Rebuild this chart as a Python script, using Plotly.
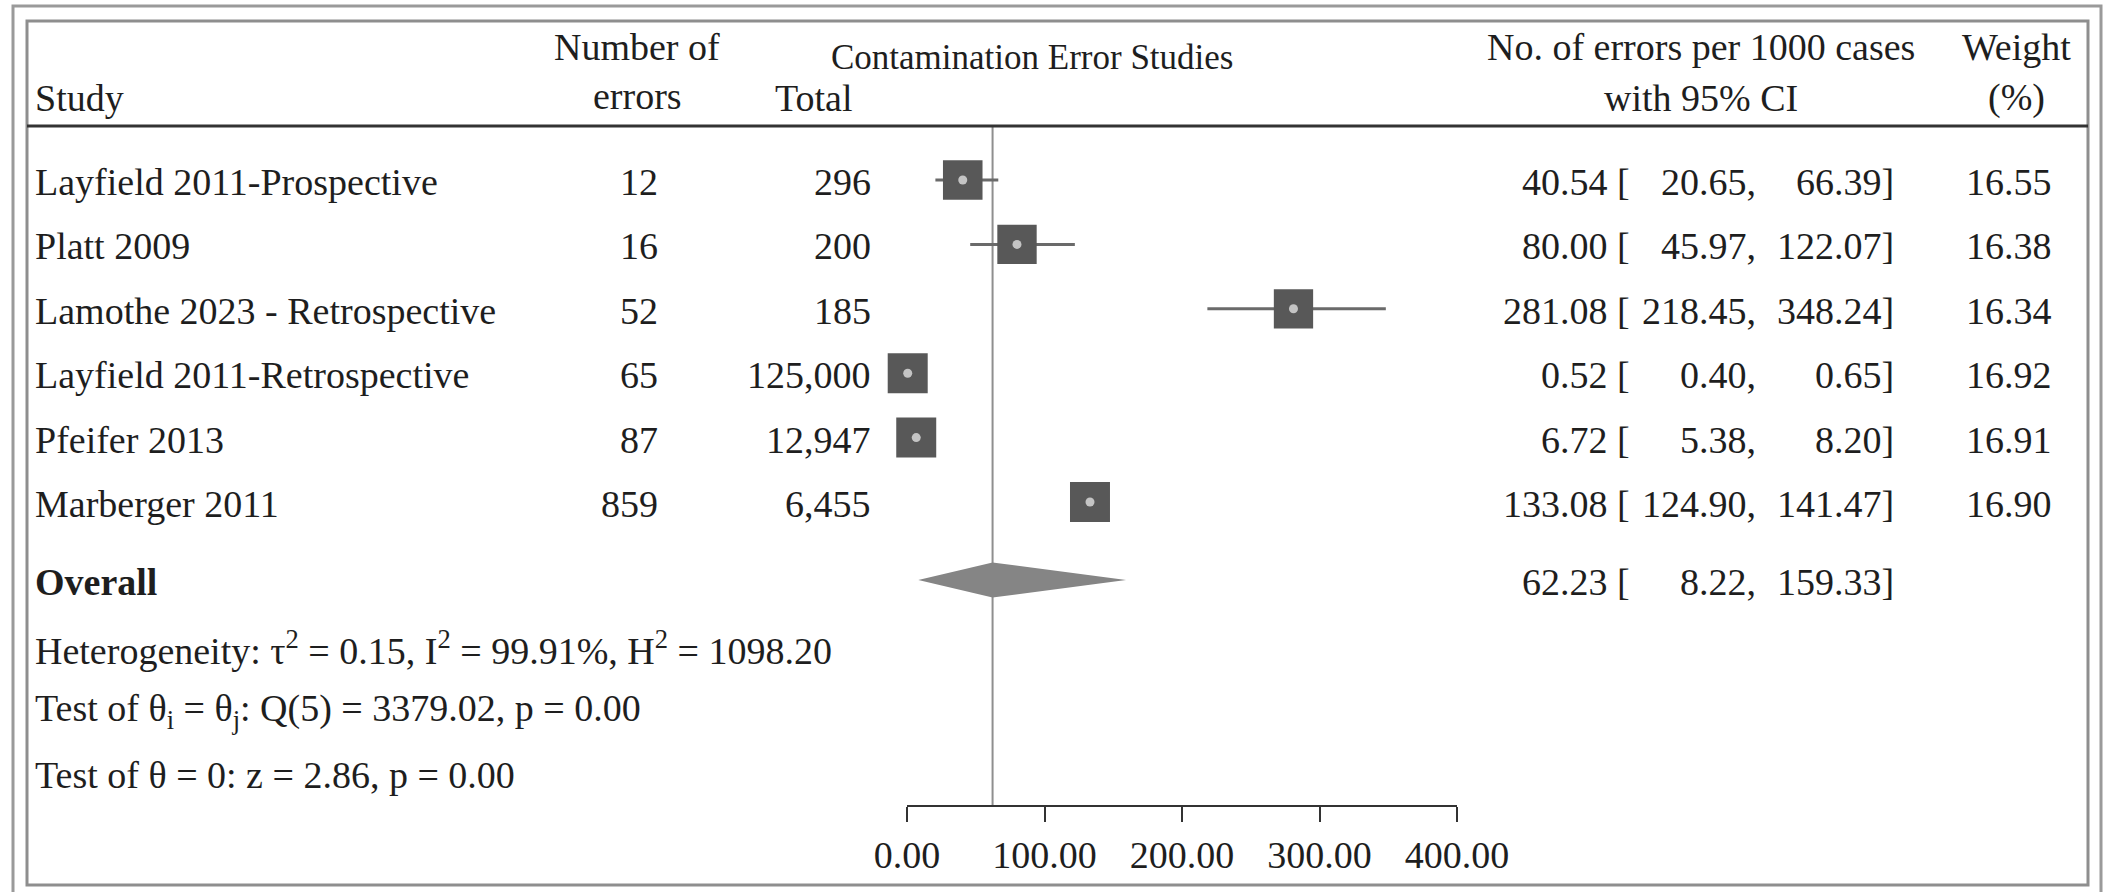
import plotly.graph_objects as go

# ---------------- data ----------------
studies = ["Layfield 2011-Prospective", "Platt 2009", "Lamothe 2023 - Retrospective",
           "Layfield 2011-Retrospective", "Pfeifer 2013", "Marberger 2011"]
n_errors = [12, 16, 52, 65, 87, 859]
totals = [296, 200, 185, 125000, 12947, 6455]
est = [40.54, 80.00, 281.08, 0.52, 6.72, 133.08]
ci_lo = [20.65, 45.97, 218.45, 0.40, 5.38, 124.90]
ci_hi = [66.39, 122.07, 348.24, 0.65, 8.20, 141.47]
weights = [16.55, 16.38, 16.34, 16.92, 16.91, 16.90]
overall_est, overall_lo, overall_hi = 62.23, 8.22, 159.33
stats_lines = [
    "Heterogeneity: τ<sup>2</sup> = 0.15, I<sup>2</sup> = 99.91%, H<sup>2</sup> = 1098.20",
    "Test of θ<sub>i</sub> = θ<sub>j</sub>: Q(5) = 3379.02, p = 0.00",
    "Test of θ = 0: z = 2.86, p = 0.00",
]
tick_vals = [0, 100, 200, 300, 400]
tick_text = ["%.2f" % v for v in tick_vals]

# ---------------- layout helpers ----------------
W, H = 2106, 892
Y0, DY = 180.0, 64.4          # pixel of first row, pixels per row
def px(x):
    return x / W
def py(y):
    return 1 - y / H
def row_of(ypix):
    return (ypix - Y0) / DY

FONT = "Liberation Serif"
TXT = "#1e1e1e"
FS = 38

rows = list(range(len(studies)))
overall_row = row_of(580)
stat_rows = [row_of(646), row_of(709), row_of(773)]

fig = go.Figure()

# CI lines
ci_x, ci_y = [], []
for r, l, h in zip(rows, ci_lo, ci_hi):
    ci_x += [l, h, None]
    ci_y += [r, r, None]
fig.add_trace(go.Scatter(x=ci_x, y=ci_y, mode="lines",
                         line=dict(color="#6a6a6a", width=3),
                         hoverinfo="skip", showlegend=False))
# squares (area proportional to weight)
maxw = max(weights)
fig.add_trace(go.Scatter(
    x=est, y=rows, mode="markers",
    marker=dict(symbol="square", color="#585858", opacity=1,
                size=[40 * (w / maxw) ** 0.5 for w in weights], line=dict(width=0)),
    cliponaxis=False, hoverinfo="skip", showlegend=False))
# centre dots
fig.add_trace(go.Scatter(
    x=est, y=rows, mode="markers",
    marker=dict(symbol="circle", color="#c4c4c4", size=9, opacity=1, line=dict(width=0)),
    cliponaxis=False, hoverinfo="skip", showlegend=False))
# overall diamond
hh = 17.5 / DY
fig.add_trace(go.Scatter(
    x=[overall_lo, overall_est, overall_hi, overall_est, overall_lo],
    y=[overall_row, overall_row - hh, overall_row, overall_row + hh, overall_row],
    mode="lines", fill="toself", fillcolor="#858585", line=dict(width=0, color="#858585"),
    hoverinfo="skip", showlegend=False))

ann = []
def add_text(text, x, y, xanchor, yref="y", size=FS, yshift=-2):
    ann.append(dict(text=text, x=px(x), xref="paper", y=y, yref=yref,
                    xanchor=xanchor, yanchor="middle", showarrow=False, yshift=yshift,
                    font=dict(family=FONT, size=size, color=TXT)))

# headers
add_text("Study", 33, py(98), "left", yref="paper", yshift=0)
add_text("Number of", 637, py(47), "center", yref="paper", yshift=0)
add_text("errors", 637, py(96), "center", yref="paper", yshift=0)
add_text("Total", 855, py(98), "right", yref="paper", yshift=0)
add_text("Contamination Error Studies", 1032, py(57), "center", yref="paper", size=35, yshift=0)
add_text("No. of errors per 1000 cases", 1701, py(47), "center", yref="paper", yshift=0)
add_text("with 95% CI", 1701, py(98), "center", yref="paper", yshift=0)
add_text("Weight", 2016, py(47), "center", yref="paper", yshift=0)
add_text("(%)", 2016, py(98), "center", yref="paper", yshift=0)

# study rows
for r, s, n, t, e, l, h, w in zip(rows, studies, n_errors, totals, est, ci_lo, ci_hi, weights):
    add_text(s, 33, r, "left")
    add_text(str(n), 660, r, "right")
    add_text(f"{t:,}", 873, r, "right")
    add_text(f"{e:.2f} [", 1632, r, "right")
    add_text(f"{l:.2f},", 1758, r, "right")
    add_text(f"{h:.2f}]", 1896, r, "right")
    add_text(f"{w:.2f}", 2054, r, "right")

# overall row
add_text("<b>Overall</b>", 33, overall_row, "left")
add_text(f"{overall_est:.2f} [", 1632, overall_row, "right")
add_text(f"{overall_lo:.2f},", 1758, overall_row, "right")
add_text(f"{overall_hi:.2f}]", 1896, overall_row, "right")

for r, s in zip(stat_rows, stats_lines):
    add_text(s, 33, r, "left")

shapes = [
    # outer and inner frames
    dict(type="rect", xref="paper", yref="paper", x0=px(13), x1=px(2101), y0=py(905), y1=py(6),
         line=dict(color="#9a9a9a", width=3)),
    dict(type="rect", xref="paper", yref="paper", x0=px(27), x1=px(2088), y0=py(885), y1=py(21),
         line=dict(color="#8e8e8e", width=3)),
    # header rule
    dict(type="line", xref="paper", yref="paper", x0=px(27), x1=px(2088), y0=py(126), y1=py(126),
         line=dict(color="#333333", width=3)),
    # overall reference line
    dict(type="line", xref="x", yref="paper", x0=overall_est, x1=overall_est,
         y0=py(806), y1=py(126), line=dict(color="#8f8f8f", width=2), layer="below"),
]

fig.update_layout(
    width=W, height=H, margin=dict(l=0, r=0, t=0, b=0, autoexpand=False),
    paper_bgcolor="white", plot_bgcolor="rgba(0,0,0,0)",
    showlegend=False, annotations=ann, shapes=shapes,
    xaxis=dict(domain=[px(907), px(1457)], range=[0, 400], anchor="free", position=py(806),
               showgrid=False, zeroline=False, showline=True, linecolor="#333333", linewidth=2,
               ticks="outside", ticklen=15, tickwidth=2, tickcolor="#333333",
               tickvals=tick_vals, ticktext=tick_text, automargin=False,
               tickfont=dict(family=FONT, size=FS, color=TXT), fixedrange=True),
    yaxis=dict(domain=[0, 1], range=[(H - Y0) / DY, -Y0 / DY], visible=False,
               showgrid=False, zeroline=False, fixedrange=True),
)

fig.write_html("out.html", config={"displayModeBar": False},
               post_script="document.body.style.margin='0';document.body.style.overflow='hidden';")
